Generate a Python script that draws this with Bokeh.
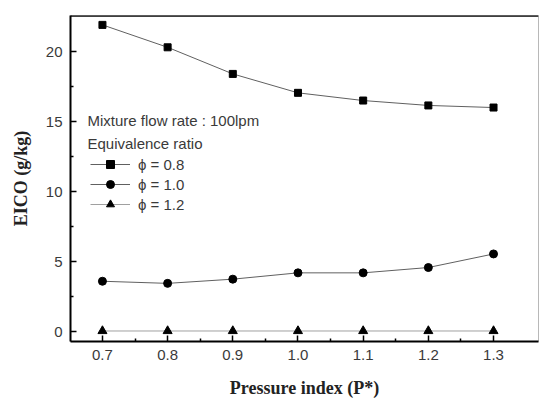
from bokeh.plotting import figure
from bokeh.models import Range1d, Legend, LegendItem, FixedTicker, Label, Span
from bokeh.embed import file_html
from bokeh.resources import INLINE

# ---- data ----
pressure_index = [0.7, 0.8, 0.9, 1.0, 1.1, 1.2, 1.3]
eico_phi08 = [21.9, 20.3, 18.4, 17.05, 16.5, 16.15, 16.0]
eico_phi10 = [3.6, 3.45, 3.75, 4.2, 4.2, 4.58, 5.55]
eico_phi12 = [0.05, 0.05, 0.05, 0.05, 0.05, 0.05, 0.05]
series_labels = ["\u03d5 = 0.8", "\u03d5 = 1.0", "\u03d5 = 1.2"]
x_ticks = [0.7, 0.8, 0.9, 1.0, 1.1, 1.2, 1.3]
x_tick_labels = ["0.7", "0.8", "0.9", "1.0", "1.1", "1.2", "1.3"]
y_ticks = [0, 5, 10, 15, 20]
header_lines = ["Mixture flow rate : 100lpm", "Equivalence ratio"]

SANS = "Liberation Sans"
SERIF = "Liberation Serif"

Y_MAX = 22.57
p = figure(width=540, height=400, output_backend="svg", toolbar_location=None,
           x_range=Range1d(0.651, 1.369), y_range=Range1d(-0.7, Y_MAX),
           min_border_left=70, min_border_right=2, min_border_top=15, min_border_bottom=58)
p.grid.visible = False
p.outline_line_color = "#b8b8b8"
p.outline_line_width = 1
p.background_fill_color = "white"
p.border_fill_color = "white"

for ax in (p.xaxis[0], p.yaxis[0]):
    ax.axis_line_width = 2
    ax.axis_line_color = "black"
    ax.major_tick_in = 6
    ax.major_tick_out = 0
    ax.minor_tick_in = 3
    ax.minor_tick_out = 0
    ax.major_tick_line_width = 1.5
    ax.minor_tick_line_width = 1.5
    ax.major_label_text_font = SANS
    ax.major_label_text_font_size = "15px"
    ax.major_label_text_color = "#3a3a3a"
    ax.major_label_standoff = 8
    ax.axis_label_text_font = SERIF
    ax.axis_label_text_font_style = "bold"
    ax.axis_label_text_font_size = "18px"
    ax.axis_label_text_color = "#222222"

p.xaxis.ticker = FixedTicker(ticks=x_ticks, minor_ticks=[0.75, 0.85, 0.95, 1.05, 1.15, 1.25])
p.xaxis.major_label_overrides = {t: l for t, l in zip(x_ticks, x_tick_labels)}
p.yaxis.ticker = FixedTicker(ticks=y_ticks, minor_ticks=[2.5, 7.5, 12.5, 17.5])
p.xaxis.axis_label = "Pressure index (P*)"
p.yaxis.axis_label = "EICO (g/kg)"
p.xaxis.axis_label_standoff = 15
p.yaxis.axis_label_standoff = 12

# heavy top frame line
p.add_layout(Span(location=Y_MAX, dimension="width", line_color="black", line_width=2.5))

line_col = "#606060"
l1 = p.line(pressure_index, eico_phi08, line_color=line_col, line_width=1)
s1 = p.scatter(pressure_index, eico_phi08, marker="square", size=7, color="black")
l2 = p.line(pressure_index, eico_phi10, line_color=line_col, line_width=1)
s2 = p.scatter(pressure_index, eico_phi10, marker="circle", size=8, color="black")
l3 = p.line(pressure_index, eico_phi12, line_color="#a0a0a0", line_width=1)
s3 = p.scatter(pressure_index, eico_phi12, marker="triangle", size=9, color="black")

legend = Legend(items=[LegendItem(label=series_labels[0], renderers=[l1, s1]),
                       LegendItem(label=series_labels[1], renderers=[l2, s2]),
                       LegendItem(label=series_labels[2], renderers=[l3, s3])],
                location=(20, 127), padding=0, margin=0, spacing=0,
                glyph_width=40, glyph_height=20, label_height=20,
                label_standoff=8, border_line_color=None, background_fill_alpha=0,
                label_text_font=SANS, label_text_font_size="15px",
                label_text_color="#3a3a3a")
p.add_layout(legend, "center")

for txt, yv in zip(header_lines, [15.09, 13.45]):
    p.add_layout(Label(x=0.677, y=yv, text=txt, text_font=SANS, text_font_size="15px",
                       text_color="#3a3a3a", text_baseline="middle"))

open("out.html", "w").write(file_html(p, INLINE))
